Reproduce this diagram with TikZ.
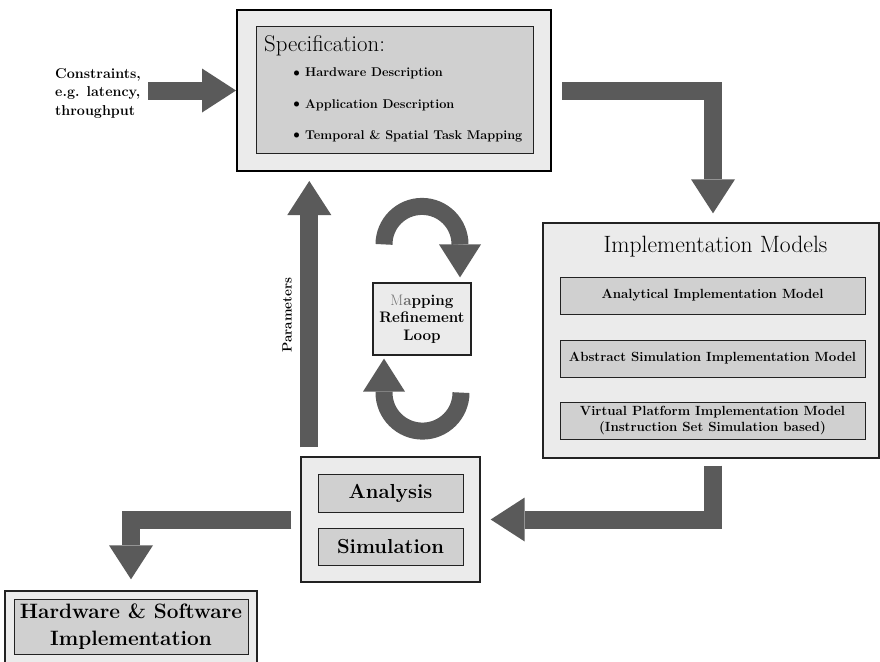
\documentclass[tikz,border=0pt]{standalone}
\usetikzlibrary{arrows.meta}

\definecolor{boxlight}{HTML}{EBEBEB}
\definecolor{boxmid}{HTML}{D0D0D0}
\definecolor{arrowgray}{HTML}{5A5A5A}
\definecolor{edge}{HTML}{222222}

\newcommand{\bigdot}{\makebox[13pt][l]{\hspace{-3pt}\raisebox{-0.7pt}{\scalebox{1.35}{\textbullet}}}}

\tikzset{
  frame/.style={rectangle, draw=edge, line width=1.4pt, fill=boxlight, inner sep=0pt},
  inbox/.style={rectangle, draw=edge, line width=1pt, fill=boxmid, inner sep=0pt, align=center},
  bigarrow/.style={draw=arrowgray, line width=18pt, line join=miter,
    -{Triangle[length=34pt,width=44pt,line width=0pt]}},
  looparrow/.style={draw=arrowgray, line width=17pt,
    -{Triangle[length=33pt,width=42pt,line width=0pt]}},
  smalltxt/.style={inner sep=0pt, font=\fontsize{12.7}{15}\selectfont\bfseries},
  boxtxt/.style={font=\fontsize{13.3}{15.5}\selectfont\bfseries},
  bigtxt/.style={font=\fontsize{20.3}{27}\selectfont\bfseries},
}

\begin{document}
\begin{tikzpicture}[x=1pt,y=1pt]
\useasboundingbox (0,0) rectangle (880,-661);

% specification block
\node[frame, draw=black, line width=2pt, minimum width=314pt, minimum height=161pt] (spec) at (394,-90.5) {};
\node[inbox, minimum width=277pt, minimum height=126pt] (specin) at (394.5,-90) {};
\node[anchor=base west, inner sep=0pt, font=\fontsize{22.8}{26}\selectfont] (spectitle) at (264,-52) {Specification:};
\node[smalltxt, anchor=base west] (item1) at (292,-77) {\bigdot Hardware Description};
\node[smalltxt, anchor=base west] (item2) at (292,-108) {\bigdot Application Description};
\node[smalltxt, anchor=base west] (item3) at (292,-139) {\bigdot Temporal \& Spatial Task Mapping};

% constraints input
\node[anchor=west, align=left, inner sep=0pt, font=\fontsize{14.3}{18.5}\selectfont\bfseries] (cons) at (55,-93) {Constraints,\\e.g. latency,\\throughput};

% implementation models
\node[frame, minimum width=336pt, minimum height=235pt] (impl) at (711,-340.5) {};
\node[anchor=base, inner sep=0pt, font=\fontsize{23.6}{26}\selectfont] (impltitle) at (715.5,-252) {Implementation Models};
\node[inbox, boxtxt, minimum width=305pt, minimum height=37pt] (im1) at (712.5,-295.5) {Analytical Implementation Model};
\node[inbox, boxtxt, minimum width=305pt, minimum height=37pt] (im2) at (712.5,-358.5) {Abstract Simulation Implementation Model};
\node[inbox, boxtxt, minimum width=305pt, minimum height=37pt] (im3) at (712.5,-420.5) {Virtual Platform Implementation Model\\(Instruction Set Simulation based)};

% analysis and simulation
\node[frame, minimum width=179pt, minimum height=125pt] (ana) at (390.5,-519.5) {};
\node[inbox, bigtxt, minimum width=145pt, minimum height=38pt] (anain) at (390.5,-493) {Analysis};
\node[inbox, bigtxt, minimum width=145pt, minimum height=37pt] (simin) at (390.5,-546.5) {Simulation};

% final implementation
\node[frame, minimum width=252pt, minimum height=77pt] (hw) at (131,-629.5) {};
\node[inbox, bigtxt, font=\fontsize{20.8}{27}\selectfont\bfseries, minimum width=234pt, minimum height=55pt] (hwin) at (131,-626.5) {Hardware \& Software\\Implementation};

% refinement loop
\node[frame, line width=1.2pt, minimum width=98pt, minimum height=72pt, align=center,
      font=\fontsize{15.2}{17.5}\selectfont\bfseries] (map) at (422,-319)
  {{\mdseries\color{black!55}M}{\color{black!60}a}pping\\Refinement\\Loop};

% parameters feedback label
\node[rotate=90, inner sep=0pt, font=\fontsize{13.4}{16}\selectfont\bfseries] (plabel) at (287,-315) {Parameters};

% connectors
\draw[bigarrow] ([xshift=7pt]cons.east |- spec.west) -- (spec.west);
\draw[bigarrow] ([xshift=10pt]spec.east) -| ([xshift=2pt,yshift=9pt]impl.north);
\draw[bigarrow] ([xshift=2pt,yshift=-7pt]impl.south) |- ([xshift=10pt]ana.east);
\draw[bigarrow] ([xshift=-9pt]ana.west) -| ([yshift=11pt]hw.north);
\coordinate (pbot) at ([xshift=9pt,yshift=9pt]ana.north west);
\coordinate (ptop) at (pbot |- spec.south);
\draw[bigarrow] (pbot) -- ([yshift=-9pt]ptop);

% loop arrows round the refinement box
\draw[looparrow] ([xshift=-38pt,yshift=38pt]map.north) arc[start angle=180,end angle=0,radius=38pt]
  -- ([xshift=38pt,yshift=5pt]map.north);
\draw[looparrow] ([xshift=39pt,yshift=-37pt]map.south) arc[start angle=0,end angle=-180,radius=38.5pt]
  -- ([xshift=-38pt,yshift=-3pt]map.south);
\end{tikzpicture}
\end{document}
